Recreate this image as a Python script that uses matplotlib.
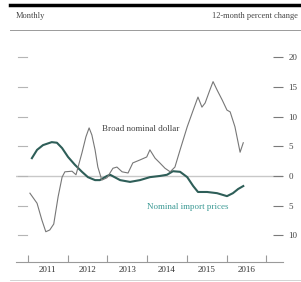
import matplotlib
matplotlib.use("Agg")
import matplotlib.pyplot as plt
from matplotlib.lines import Line2D

# === Dados ===
dollar_t = [2011.05, 2011.23, 2011.35, 2011.45, 2011.55, 2011.65, 2011.76, 2011.86,
            2011.93, 2012.11, 2012.21, 2012.36, 2012.46, 2012.54, 2012.61, 2012.69,
            2012.76, 2012.86, 2012.99, 2013.14, 2013.24, 2013.37, 2013.52, 2013.64,
            2013.82, 2013.99, 2014.07, 2014.20, 2014.32, 2014.45, 2014.58, 2014.70,
            2014.83, 2015.01, 2015.16, 2015.28, 2015.38, 2015.46, 2015.58, 2015.66,
            2015.76, 2015.89, 2016.01, 2016.09, 2016.21, 2016.34, 2016.42]
dollar_v = [-2.9, -4.6, -7.4, -9.4, -9.1, -8.1, -3.5, -0.2,
            0.7, 0.8, 0.2, 3.9, 6.6, 8.1, 6.9, 4.4,
            1.5, -0.7, -0.3, 1.3, 1.5, 0.7, 0.5, 2.2,
            2.7, 3.2, 4.4, 3.0, 2.2, 1.3, 0.7, 1.5,
            4.4, 8.3, 11.1, 13.3, 11.6, 12.3, 14.5, 15.9,
            14.5, 12.8, 11.1, 10.8, 8.3, 4.0, 5.6]

import_t = [2011.10, 2011.23, 2011.38, 2011.60, 2011.73, 2011.86, 2012.01, 2012.18,
            2012.36, 2012.51, 2012.69, 2012.81, 2012.99, 2013.07, 2013.32, 2013.57,
            2013.82, 2014.07, 2014.32, 2014.50, 2014.65, 2014.83, 2015.01, 2015.16,
            2015.28, 2015.51, 2015.76, 2016.01, 2016.16, 2016.29, 2016.42]
import_v = [3.0, 4.4, 5.2, 5.7, 5.6, 4.7, 3.2, 1.9,
            0.7, -0.2, -0.7, -0.7, 0.0, 0.2, -0.7, -1.0,
            -0.7, -0.2, 0.0, 0.2, 0.8, 0.7, -0.2, -1.7,
            -2.7, -2.7, -2.9, -3.4, -2.9, -2.2, -1.7]

years = [2011, 2012, 2013, 2014, 2015, 2016]
yticks = [20, 15, 10, 5, 0, -5, -10]
ylabels = ["20", "15", "10", "5", "0", "5", "10"]

plt.rcParams['font.family'] = ['Liberation Serif', 'DejaVu Serif']

W, H = 301, 282
fig = plt.figure(figsize=(W / 100, H / 100), dpi=100)
ax = fig.add_axes([16 / W, 20 / H, 267 / W, 232 / H])

ax.axhline(0, color='#c8c8c8', lw=1.0, zorder=1)
ax.plot(dollar_t, dollar_v, color='#777777', lw=0.8, zorder=3)
ax.plot(import_t, import_v, color='#2e5e58', lw=1.5, zorder=2)

ax.set_xlim(2010.70, 2017.42)
ax.set_ylim(-14.5, 24.6)

ax.set_yticks(yticks)
ax.set_yticklabels(ylabels)
ax.tick_params(axis='y', direction='in', length=7, width=0.8, color='#7a7a7a',
               right=True, left=False, labelleft=False, labelright=True,
               labelsize=6.5, labelcolor='#444444', pad=4)
# marcas da esquerda mais claras
for v in yticks:
    ax.plot([2010.75, 2010.98], [v, v], color='#b5b5b5', lw=0.8, zorder=1)

ax.set_xticks([y for y in range(2011, 2018)])
ax.set_xticklabels([])
ax.set_xticks([y + 0.5 for y in years], minor=True)
ax.set_xticklabels([str(y) for y in years], minor=True)
ax.tick_params(axis='x', which='major', direction='in', length=5, width=0.8, color='#9a9a9a')
ax.tick_params(axis='x', which='minor', length=0, labelsize=6.5, labelcolor='#333333', pad=3)

for s in ['top', 'left', 'right']:
    ax.spines[s].set_visible(False)
ax.spines['bottom'].set_color('#9a9a9a')
ax.spines['bottom'].set_linewidth(0.8)

ax.text(2012.86, 7.9, "Broad nominal dollar", fontsize=6.5, color='#444444',
        ha='left', va='center')
ax.text(2016.05, -5.3, "Nominal import prices", fontsize=6.5, color='#3c9a95',
        ha='right', va='center')

# === Cabeçalho ===
fig.add_artist(Line2D([10 / W, 1], [1 - 5 / H, 1 - 5 / H], color='black', lw=2.5))
fig.add_artist(Line2D([10 / W, 1], [1 - 30 / H, 1 - 30 / H], color='#9a9a9a', lw=0.7))
fig.add_artist(Line2D([10 / W, 1], [1 - 280 / H, 1 - 280 / H], color='#cccccc', lw=0.6))
fig.text(16 / W, 1 - 16 / H, "Monthly", fontsize=6, color='#444444', ha='left', va='center')
fig.text(298 / W, 1 - 16 / H, "12-month percent change", fontsize=6, color='#444444',
         ha='right', va='center')

fig.savefig("out.png", dpi=100)
